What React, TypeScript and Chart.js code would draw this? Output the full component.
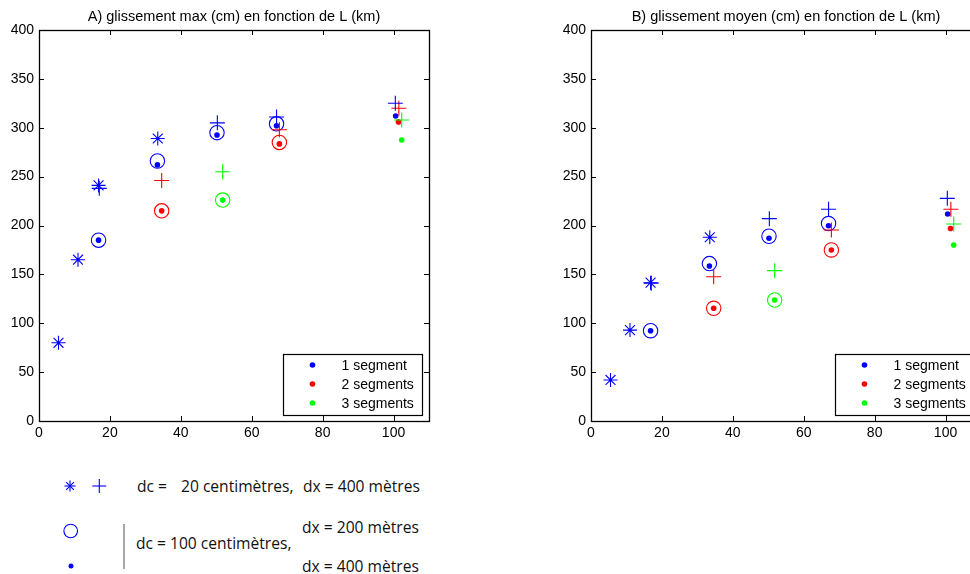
import React, { useEffect, useRef } from "react";
import { Chart, registerables } from "chart.js";
Chart.register(...registerables);

// ---------- data ----------
const xTicks = [0, 20, 40, 60, 80, 100];
const yTicks = [0, 50, 100, 150, 200, 250, 300, 350, 400];
const legendLabels = ["1 segment", "2 segments", "3 segments"];
const titleA = "A) glissement max (cm) en fonction de L (km)";
const titleB = "B) glissement moyen (cm) en fonction de L (km)";

// dc = 20 cm, dx = 400 m : asterisks (single fault) and crosses (1/2/3 segments)
const L_star = [5.5, 11, 16.8, 33.5];
const max_star = [80, 165, 241, 289];
const moy_star = [42, 93, 141.5, 188];

const L_plus1 = [17, 50.3, 67, 100.5];
const max_plus1 = [238, 305, 311, 325];
const moy_plus1 = [141, 207, 216.6, 227.8];

const L_plus2 = [34.6, 67.8, 101.5];
const max_plus2 = [246, 298, 320];
const moy_plus2 = [147.6, 195.4, 216.6];

const L_plus3 = [51.8, 102.3];
const max_plus3 = [255, 308];
const moy_plus3 = [153.8, 201.5];

// dc = 100 cm, dx = 200 m : circles
const L_circ1 = [16.8, 33.4, 50.2, 67];
const max_circ1 = [185, 266, 295, 304];
const moy_circ1 = [92.4, 161, 189, 202];

const L_circ2 = [34.6, 67.8];
const max_circ2 = [215, 285];
const moy_circ2 = [115.3, 175];

const L_circ3 = [51.8];
const max_circ3 = [226];
const moy_circ3 = [123.8];

// dc = 100 cm, dx = 400 m : dots
const L_dot1 = [16.8, 33.4, 50.2, 67, 100.6];
const max_dot1 = [185, 262, 292.6, 302, 312];
const moy_dot1 = [92.4, 158.6, 187, 199.8, 211.8];

const L_dot2 = [34.6, 67.8, 101.4];
const max_dot2 = [215, 283.5, 306];
const moy_dot2 = [115.3, 175, 197];

const L_dot3 = [51.8, 102.3];
const max_dot3 = [226, 287.5];
const moy_dot3 = [123.8, 180];

// ---------- styles ----------
const BLUE = "#0000ff";
const RED = "#ff0000";
const GREEN = "#00ff00";
const legendColors = [BLUE, RED, GREEN];
const FONT = "'Liberation Sans', Arial, Helvetica, sans-serif";

function pts(xs: number[], ys: number[]) {
  return xs.map((x, i) => ({ x, y: ys[i] }));
}

function ds(label: string, xs: number[], ys: number[], style: string, color: string, radius: number, filled: boolean) {
  return {
    label,
    data: pts(xs, ys),
    showLine: false,
    pointStyle: style,
    pointRadius: radius,
    pointBorderColor: color,
    pointBackgroundColor: filled ? color : "rgba(0,0,0,0)",
    pointBorderWidth: filled ? 0 : 1.1,
    borderColor: color,
    backgroundColor: filled ? color : "rgba(0,0,0,0)",
    borderWidth: filled ? 0 : 1.1,
  };
}

function buildDatasets(kind: "max" | "moy") {
  const m = kind === "max";
  return [
    ds("dc20 asterisk", L_star, m ? max_star : moy_star, "star", BLUE, 7, false),
    ds("dc20 1 seg", L_plus1, m ? max_plus1 : moy_plus1, "cross", BLUE, 7.5, false),
    ds("dc20 2 seg", L_plus2, m ? max_plus2 : moy_plus2, "cross", RED, 7.5, false),
    ds("dc20 3 seg", L_plus3, m ? max_plus3 : moy_plus3, "cross", GREEN, 7.5, false),
    ds("dx200 1 seg", L_circ1, m ? max_circ1 : moy_circ1, "circle", BLUE, 7.2, false),
    ds("dx200 2 seg", L_circ2, m ? max_circ2 : moy_circ2, "circle", RED, 7.2, false),
    ds("dx200 3 seg", L_circ3, m ? max_circ3 : moy_circ3, "circle", GREEN, 7.2, false),
    ds("1 segment", L_dot1, m ? max_dot1 : moy_dot1, "circle", BLUE, 2.8, true),
    ds("2 segments", L_dot2, m ? max_dot2 : moy_dot2, "circle", RED, 2.8, true),
    ds("3 segments", L_dot3, m ? max_dot3 : moy_dot3, "circle", GREEN, 2.8, true),
  ];
}

// frame with inward ticks (MATLAB style) + boxed legend
const framePlugin = {
  id: "frameTicks",
  afterDraw(chart: any) {
    const { ctx, chartArea: a, scales } = chart;
    const tl = 5;
    ctx.save();
    ctx.strokeStyle = "#000";
    ctx.lineWidth = 1;
    ctx.beginPath();
    scales.x.ticks.forEach((t: any) => {
      const px = Math.round(scales.x.getPixelForValue(t.value)) + 0.5;
      ctx.moveTo(px, a.bottom);
      ctx.lineTo(px, a.bottom - tl);
      ctx.moveTo(px, a.top);
      ctx.lineTo(px, a.top + tl);
    });
    scales.y.ticks.forEach((t: any) => {
      const py = Math.round(scales.y.getPixelForValue(t.value)) + 0.5;
      ctx.moveTo(a.left, py);
      ctx.lineTo(a.left + tl, py);
      ctx.moveTo(a.right, py);
      ctx.lineTo(a.right - tl, py);
    });
    ctx.stroke();
    ctx.lineWidth = 1.3;
    ctx.strokeRect(Math.round(a.left) + 0.5, Math.round(a.top) + 0.5, Math.round(a.right - a.left), Math.round(a.bottom - a.top));
    ctx.restore();
  },
};

const legendPlugin = {
  id: "boxLegend",
  afterDraw(chart: any, _args: any, opts: any) {
    const { ctx, chartArea: a } = chart;
    const x0 = Math.round(a.right - 146) + 0.5;
    const y0 = Math.round(a.bottom - 67) + 0.5;
    const w = 139;
    const h = 61;
    ctx.save();
    ctx.fillStyle = "#fff";
    ctx.fillRect(x0, y0, w, h);
    ctx.strokeStyle = "#000";
    ctx.lineWidth = 1.2;
    ctx.strokeRect(x0, y0, w, h);
    ctx.font = `14px ${FONT}`;
    ctx.textBaseline = "middle";
    (opts.labels as string[]).forEach((lab, i) => {
      const cy = y0 + 10.5 + i * 19;
      ctx.fillStyle = opts.colors[i];
      ctx.beginPath();
      ctx.arc(x0 + 29, cy, 2.8, 0, Math.PI * 2);
      ctx.fill();
      ctx.fillStyle = "#000";
      ctx.fillText(lab, x0 + 58, cy + 1);
    });
    ctx.restore();
  },
};

function Panel({ title, kind, left }: { title: string; kind: "max" | "moy"; left: number }) {
  const ref = useRef<HTMLCanvasElement>(null);
  useEffect(() => {
    const chart = new Chart(ref.current as HTMLCanvasElement, {
      type: "scatter",
      data: { datasets: buildDatasets(kind) as any },
      plugins: [framePlugin, legendPlugin],
      options: {
        responsive: false,
        animation: false,
        events: [],
        layout: { padding: { left: 0, right: 21, top: 0, bottom: 0 } },
        plugins: {
          legend: { display: false },
          tooltip: { enabled: false },
          title: {
            display: true,
            fullSize: false,
            text: title,
            color: "#000",
            font: { family: FONT, size: 14.5, weight: "normal", lineHeight: 1.2 },
            padding: { top: 8.5, bottom: 4.1 },
          },
          boxLegend: { labels: legendLabels, colors: legendColors },
        } as any,
        scales: {
          x: {
            type: "linear",
            min: 0,
            max: 110,
            grid: { display: false, drawTicks: false },
            border: { display: false },
            afterBuildTicks: (s: any) => {
              s.ticks = xTicks.map((v) => ({ value: v }));
            },
            afterFit: (s: any) => {
              s.height = 24;
            },
            ticks: { color: "#000", font: { family: FONT, size: 14 }, padding: 4, maxRotation: 0 },
          },
          y: {
            type: "linear",
            min: 0,
            max: 400,
            grid: { display: false, drawTicks: false },
            border: { display: false },
            afterBuildTicks: (s: any) => {
              s.ticks = yTicks.map((v) => ({ value: v }));
            },
            afterFit: (s: any) => {
              s.width = 39;
            },
            ticks: { color: "#000", font: { family: FONT, size: 14 }, padding: 5 },
          },
        },
      } as any,
    });
    return () => chart.destroy();
  }, [title, kind]);
  return (
    <canvas
      ref={ref}
      width={450}
      height={445}
      style={{ position: "absolute", left, top: 0, width: 450, height: 445 }}
    />
  );
}

const noteFont: React.CSSProperties = {
  position: "absolute",
  fontFamily: "'Open Sans', 'Noto Sans', sans-serif",
  fontSize: 15.6,
  lineHeight: "20px",
  color: "#111",
  whiteSpace: "pre",
};

export default function App() {
  return (
    <div
      style={{
        position: "fixed",
        left: 0,
        top: 0,
        width: 970,
        height: 574,
        overflow: "hidden",
        background: "#fff",
      }}
    >
      <Panel title={titleA} kind="max" left={0} />
      <Panel title={titleB} kind="moy" left={552} />

      <svg width={140} height={100} style={{ position: "absolute", left: 50, top: 474 }}>
        {/* asterisk */}
        <g stroke={BLUE} strokeWidth={1.1} transform="translate(20,12)">
          <line x1={-5.5} y1={0} x2={5.5} y2={0} />
          <line x1={0} y1={-5.5} x2={0} y2={5.5} />
          <line x1={-3.9} y1={-3.9} x2={3.9} y2={3.9} />
          <line x1={-3.9} y1={3.9} x2={3.9} y2={-3.9} />
        </g>
        {/* plus */}
        <g stroke={BLUE} strokeWidth={1.1} transform="translate(49.3,12)">
          <line x1={-7} y1={0} x2={7} y2={0} />
          <line x1={0} y1={-7} x2={0} y2={7} />
        </g>
        <circle cx={20.7} cy={57} r={6.8} fill="none" stroke={BLUE} strokeWidth={1.1} />
        <circle cx={21} cy={92} r={2.5} fill={BLUE} />
        <line x1={74} y1={50} x2={74} y2={95} stroke="#777" strokeWidth={1.3} />
      </svg>

      <div style={{ ...noteFont, left: 137, top: 476 }}>dc =</div>
      <div style={{ ...noteFont, left: 181, top: 476 }}>20 centimètres,</div>
      <div style={{ ...noteFont, left: 303, top: 476 }}>dx = 400 mètres</div>
      <div style={{ ...noteFont, left: 136, top: 533 }}>dc = 100 centimètres,</div>
      <div style={{ ...noteFont, left: 302, top: 517 }}>dx = 200 mètres</div>
      <div style={{ ...noteFont, left: 302, top: 556 }}>dx = 400 mètres</div>
    </div>
  );
}
